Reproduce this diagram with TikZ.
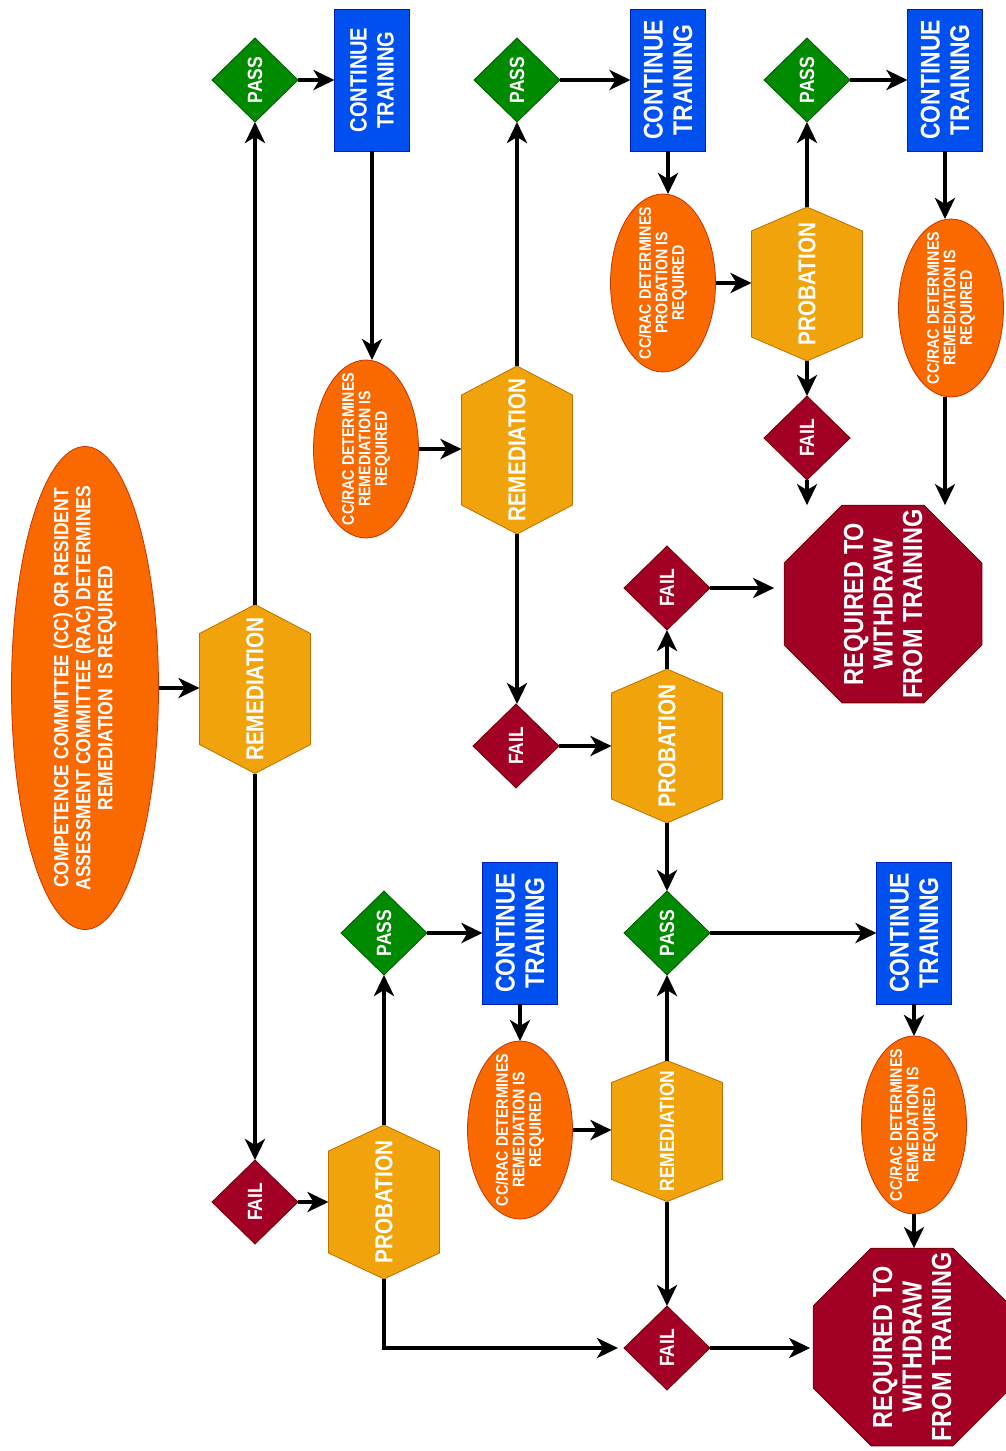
\documentclass[tikz,border=0pt]{standalone}
\usepackage{fontspec}
\setmainfont{Liberation Sans}[FakeStretch=0.85]
\usetikzlibrary{shapes.geometric,arrows.meta}
\definecolor{orfill}{HTML}{FA6800}
\definecolor{orline}{HTML}{C73500}
\definecolor{amfill}{HTML}{F0A30A}
\definecolor{amline}{HTML}{BD7000}
\definecolor{blfill}{HTML}{0050EF}
\definecolor{blline}{HTML}{001DBC}
\definecolor{grfill}{HTML}{008A00}
\definecolor{grline}{HTML}{005700}
\definecolor{crfill}{HTML}{A20025}
\definecolor{crline}{HTML}{6F0000}
\tikzset{
  shp/.style={inner sep=0pt, outer sep=0pt, line width=0.8pt},
  startell/.style={shp, ellipse, fill=orfill, draw=orline, minimum width=147pt, minimum height=483pt},
  ell/.style={shp, ellipse, fill=orfill, draw=orline, minimum width=105pt, minimum height=178pt},
  hexbox/.style={shp, rectangle, minimum width=111pt},
  hexline/.style={fill=amfill, draw=amline, line width=0.8pt},
  passd/.style={shp, diamond, fill=grfill, draw=grline, minimum width=86pt, minimum height=84pt},
  faild/.style={shp, diamond, fill=crfill, draw=crline, minimum width=86pt, minimum height=84pt},
  cont/.style={shp, rectangle, fill=blfill, draw=blline, minimum width=75pt, minimum height=142pt},
  oct/.style={shp, regular polygon, regular polygon sides=8, minimum size=214pt, fill=crfill, draw=crline},
  lbl/.style={text=white, rotate=90, align=center, inner sep=0pt},
  tbig/.style={lbl, font=\bfseries\fontsize{20.6pt}{22pt}\selectfont},
  thex/.style={lbl, font=\bfseries\fontsize{24.4pt}{26pt}\selectfont},
  thexs/.style={lbl, font=\bfseries\fontsize{20.5pt}{22pt}\selectfont},
  tdia/.style={lbl, font=\bfseries\fontsize{20.6pt}{22pt}\selectfont},
  tcont/.style={lbl, font=\bfseries\fontsize{27pt}{29.5pt}\selectfont},
  tconts/.style={lbl, font=\bfseries\fontsize{23.6pt}{27pt}\selectfont},
  toct/.style={lbl, font=\bfseries\fontsize{27.6pt}{29.5pt}\selectfont},
  tell/.style={lbl, font=\bfseries\fontsize{16.7pt}{16.5pt}\selectfont},
  arr/.style={line width=3.8pt, -{Stealth[length=21pt,width=20pt,inset=6pt]}},
}
\newcommand\drawhex[2]{%
  \draw[hexline] (#1.north) -- ([yshift=-#2]#1.north east) -- ([yshift=#2]#1.south east)
    -- (#1.south) -- ([yshift=#2]#1.south west) -- ([yshift=-#2]#1.north west) -- cycle;}
\begin{document}
\begin{tikzpicture}[x=1pt,y=-1pt]
\useasboundingbox (0,0) rectangle (1006,1451);
\fill[white] (0,0) rectangle (1006,1451);

% ---------- shapes ----------
\node[startell] (s0) at (85,688) {};
\node[hexbox, minimum height=169pt] (r1) at (255,689) {};
\drawhex{r1}{29pt}
\node[passd] (p1) at (255,80) {};
\node[cont] (c1) at (372,80) {};
\node[faild] (f1) at (255,1202) {};
\node[ell] (e1) at (366,449) {};
\node[hexbox, minimum height=168pt] (r2) at (517,450) {};
\drawhex{r2}{29pt}
\node[passd] (p2) at (517,80) {};
\node[cont] (c2) at (668,80) {};
\node[ell] (e2) at (663,283) {};
\node[hexbox, minimum height=154pt] (pr1) at (807,284) {};
\drawhex{pr1}{24pt}
\node[passd] (p3) at (807,80) {};
\node[cont] (c3) at (945,80) {};
\node[ell] (e3) at (951,308) {};
\node[faild] (f3) at (807,438) {};
\node[oct] (o1) at (883,604) {};
\node[faild] (f2) at (516,746) {};
\node[hexbox, minimum height=154pt] (pr2) at (667,746) {};
\drawhex{pr2}{24pt}
\node[faild] (fm) at (667,588) {};
\node[passd] (pm) at (667,933) {};
\node[cont] (c4) at (914,933) {};
\node[ell] (e4) at (914,1125) {};
\node[oct] (o2) at (912,1347) {};
\node[hexbox, minimum height=141pt] (r3) at (667,1131) {};
\drawhex{r3}{22pt}
\node[faild] (fb) at (667,1348) {};
\node[hexbox, minimum height=154pt] (pr3) at (384,1202) {};
\drawhex{pr3}{26pt}
\node[passd] (pb) at (384,933) {};
\node[cont] (c5) at (520,933) {};
\node[ell] (e5) at (520,1130) {};

% ---------- labels ----------
\node[tbig] (ts0) at (s0) {COMPETENCE COMMITTEE (CC) OR RESIDENT\\ASSESSMENT COMMITTEE (RAC) DETERMINES\\REMEDIATION\ \ IS REQUIRED};
\node[thex] (tr1) at (r1) {REMEDIATION};
\node[thex] (tr2) at (r2) {REMEDIATION};
\node[thexs] (tr3) at (r3) {REMEDIATION};
\node[thex] (tpr1) at (pr1) {PROBATION};
\node[thex] (tpr2) at (pr2) {PROBATION};
\node[thex] (tpr3) at (pr3) {PROBATION};
\node[tdia] (tp1) at (p1) {PASS};
\node[tdia] (tp2) at (p2) {PASS};
\node[tdia] (tp3) at (p3) {PASS};
\node[tdia] (tpm) at (pm) {PASS};
\node[tdia] (tpb) at (pb) {PASS};
\node[tdia] (tf1) at (f1) {FAIL};
\node[tdia] (tf2) at (f2) {FAIL};
\node[tdia] (tf3) at (f3) {FAIL};
\node[tdia] (tfm) at (fm) {FAIL};
\node[tdia] (tfb) at (fb) {FAIL};
\node[tconts] (tc1) at (c1) {CONTINUE\\TRAINING};
\node[tcont] (tc2) at (c2) {CONTINUE\\TRAINING};
\node[tcont] (tc3) at (c3) {CONTINUE\\TRAINING};
\node[tcont] (tc4) at (c4) {CONTINUE\\TRAINING};
\node[tcont] (tc5) at (c5) {CONTINUE\\TRAINING};
\node[toct] (to1) at (o1) {REQUIRED TO\\WITHDRAW\\FROM TRAINING};
\node[toct] (to2) at (o2) {REQUIRED TO\\WITHDRAW\\FROM TRAINING};
\node[tell] (te1) at (e1) {CC/RAC DETERMINES\\REMEDIATION IS\\REQUIRED};
\node[tell] (te2) at (e2) {CC/RAC DETERMINES\\PROBATION IS\\REQUIRED};
\node[tell] (te3) at (e3) {CC/RAC DETERMINES\\REMEDIATION IS\\REQUIRED};
\node[tell] (te4) at (e4) {CC/RAC DETERMINES\\REMEDIATION IS\\REQUIRED};
\node[tell] (te5) at (e5) {CC/RAC DETERMINES\\REMEDIATION IS\\REQUIRED};

% ---------- connectors ----------
\draw[arr] (s0.east) -- (s0.east -| r1.west);
\draw[arr] (r1.north) -- (p1.south);
\draw[arr] (r1.south) -- (f1.north);
\draw[arr] (p1.east) -- (c1.west);
\draw[arr] (c1.south) -- (c1.south |- e1.north);
\draw[arr] (e1.east) -- (e1.east -| r2.west);
\draw[arr] (r2.north) -- (p2.south);
\draw[arr] (r2.south) -- (r2.south |- f2.north);
\draw[arr] (p2.east) -- (c2.west);
\draw[arr] (c2.south) -- (c2.south |- e2.north);
\draw[arr] (e2.east) -- (e2.east -| pr1.west);
\draw[arr] (pr1.north) -- (p3.south);
\draw[arr] (pr1.south) -- (f3.north);
\draw[arr] (f3.south) -- (f3.south |- o1.north);
\draw[arr] (p3.east) -- (c3.west);
\draw[arr] (c3.south) -- (c3.south |- e3.north);
\draw[arr] (c3.south |- e3.south) -- (c3.south |- o1.north);
\draw[arr] (pr2.north) -- (fm.south);
\draw[arr] (fm.east) -- ([xshift=-10pt]fm.east -| o1.west);
\draw[arr] (f2.east) -- (f2.east -| pr2.west);
\draw[arr] (pr2.south) -- (pm.north);
\draw[arr] (pm.east) -- (c4.west);
\draw[arr] (c4.south) -- (e4.north);
\draw[arr] (e4.south) -- (e4.south |- o2.north);
\draw[arr] (r3.north) -- (pm.south);
\draw[arr] (r3.south) -- (fb.north);
\draw[arr] (fb.east) -- ([xshift=-3pt]fb.east -| o2.west);
\draw[arr] (f1.east) -- (f1.east -| pr3.west);
\draw[arr] (pr3.north) -- (pb.south);
\draw[arr] (pr3.south) |- ([xshift=-6pt]fb.west);
\draw[arr] (pb.east) -- (c5.west);
\draw[arr] (c5.south) -- (e5.north);
\draw[arr] (e5.east) -- (e5.east -| r3.west);
\end{tikzpicture}
\end{document}
